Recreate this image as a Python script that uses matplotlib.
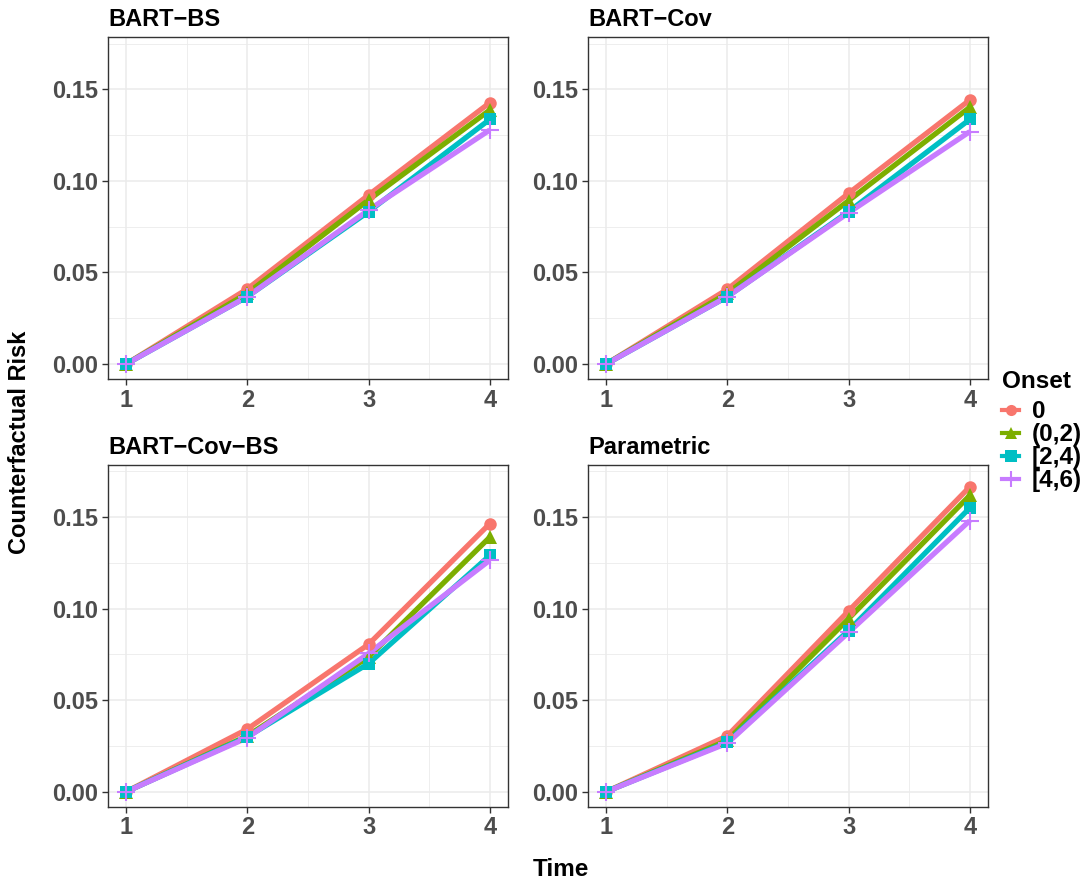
import matplotlib
matplotlib.use("Agg")
import matplotlib.pyplot as plt
from matplotlib.lines import Line2D

plt.rcParams['font.family'] = ['Liberation Sans', 'DejaVu Sans']

time = [1, 2, 3, 4]
onsets = ["0", "(0,2)", "[2,4)", "[4,6)"]
panels = ["BART\u2212BS", "BART\u2212Cov", "BART\u2212Cov\u2212BS", "Parametric"]

risk_bart_bs = {
    "0":     [0.0, 0.0410, 0.0923, 0.1427],
    "(0,2)": [0.0, 0.0386, 0.0896, 0.1387],
    "[2,4)": [0.0, 0.0368, 0.0832, 0.1336],
    "[4,6)": [0.0, 0.0368, 0.0841, 0.1278],
}
risk_bart_cov = {
    "0":     [0.0, 0.0408, 0.0932, 0.1442],
    "(0,2)": [0.0, 0.0386, 0.0892, 0.1402],
    "[2,4)": [0.0, 0.0368, 0.0832, 0.1336],
    "[4,6)": [0.0, 0.0368, 0.0826, 0.1269],
}
risk_bart_cov_bs = {
    "0":     [0.0, 0.0342, 0.0805, 0.1464],
    "(0,2)": [0.0, 0.0305, 0.0736, 0.1390],
    "[2,4)": [0.0, 0.0300, 0.0700, 0.1290],
    "[4,6)": [0.0, 0.0295, 0.0755, 0.1264],
}
risk_parametric = {
    "0":     [0.0, 0.0305, 0.0987, 0.1665],
    "(0,2)": [0.0, 0.0280, 0.0945, 0.1618],
    "[2,4)": [0.0, 0.0270, 0.0880, 0.1550],
    "[4,6)": [0.0, 0.0265, 0.0870, 0.1480],
}
panel_data = [risk_bart_bs, risk_bart_cov, risk_bart_cov_bs, risk_parametric]

colors = ["#F8766D", "#7CAE00", "#00BFC4", "#C77CFF"]
markers = ["o", "^", "s", "+"]
msizes = [9, 10, 9, 13]

fig = plt.figure(figsize=(10.88, 8.81), dpi=100)
W, H = 1088, 881
boxes = [(108, 37.3, 508, 379), (588, 37.3, 988, 379),
         (108, 465, 508, 806.7), (588, 465, 988, 806.7)]

tick_col = "#4D4D4D"
for i, (x0, y0, x1, y1) in enumerate(boxes):
    ax = fig.add_axes([x0 / W, 1 - y1 / H, (x1 - x0) / W, (y1 - y0) / H])
    data = panel_data[i]
    for k, o in enumerate(onsets):
        ax.plot(time, data[o], color=colors[k], lw=3.8, zorder=3,
                solid_capstyle='butt')
    for k, o in enumerate(onsets):
        ax.plot(time, data[o], linestyle='none', marker=markers[k],
                color=colors[k], markersize=msizes[k],
                markeredgewidth=1.5 if markers[k] == '+' else 0, zorder=4)
    ax.set_xlim(0.85, 4.15)
    ax.set_ylim(-0.0082, 0.1784)
    ax.set_xticks(time)
    ax.set_xticks([1.5, 2.5, 3.5], minor=True)
    ax.set_yticks([0.0, 0.05, 0.10, 0.15])
    ax.set_yticks([0.025, 0.075, 0.125, 0.175], minor=True)
    ax.set_yticklabels(["0.00", "0.05", "0.10", "0.15"])
    ax.grid(which='major', color='#EBEBEB', lw=1.1, zorder=0)
    ax.grid(which='minor', color='#EBEBEB', lw=0.6, zorder=0)
    ax.set_axisbelow(True)
    ax.tick_params(which='major', length=4, width=1, color='#333333',
                   labelsize=17, labelcolor=tick_col, pad=3)
    ax.tick_params(which='minor', length=0)
    for lab in ax.get_xticklabels() + ax.get_yticklabels():
        lab.set_fontweight('bold')
    for s in ax.spines.values():
        s.set_color('#333333')
        s.set_linewidth(1.0)
    ax.set_title(panels[i], loc='left', fontsize=17, fontweight='bold',
                 pad=8, color='black')

fig.text(20 / W, 1 - 442 / H, "Counterfactual Risk", rotation=90,
         ha='center', va='center', fontsize=17, fontweight='bold')
fig.text(561 / W, 1 - 869 / H, "Time", ha='center', va='center',
         fontsize=17.5, fontweight='bold')

handles = [Line2D([0], [0], color=colors[k], lw=3.0, marker=markers[k],
                  markersize=msizes[k] - 1,
                  markeredgewidth=1.5 if markers[k] == '+' else 0)
           for k in range(4)]
leg = fig.legend(handles, onsets, title="Onset", loc='upper left',
                 bbox_to_anchor=(1000 / W, 1 - 368 / H), frameon=False,
                 handlelength=0.7, handletextpad=0.5, labelspacing=0.0,
                 prop={'size': 17.5, 'weight': 'bold'},
                 title_fontproperties={'size': 17.5, 'weight': 'bold'},
                 borderaxespad=0, borderpad=0.1)
leg._legend_box.align = "left"
leg._legend_box.sep = 5

fig.savefig("out.png", dpi=100)
